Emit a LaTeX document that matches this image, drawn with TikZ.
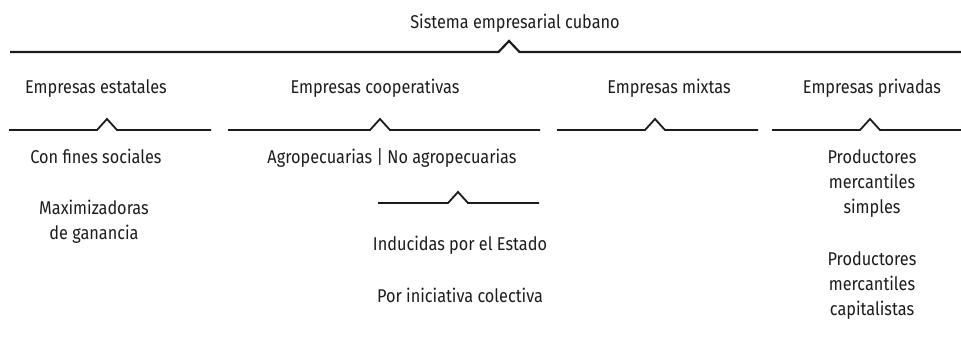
\documentclass[tikz,border=0pt]{standalone}
\usepackage{fontspec}
\setmainfont{Fira Sans}[FakeStretch=0.88]
\begin{document}
\begin{tikzpicture}[x=1pt,y=-1pt,
  lbl/.style={anchor=base,inner sep=0pt,outer sep=0pt,text=ink,font=\fontsize{18.5}{25}\selectfont,align=center},
  bracketline/.style={draw=ink,line width=1.8pt,line join=miter},
  topline/.style={draw=ink,line width=2.2pt,line join=miter}]
\definecolor{ink}{HTML}{1E1B1C}
\useasboundingbox (0,0) rectangle (961,341);
% texts
\node[lbl] (title) at (515,28) {Sistema empresarial cubano};
\node[lbl] (est) at (96,93) {Empresas estatales};
\node[lbl] (coop) at (375,93) {Empresas cooperativas};
\node[lbl] (mix) at (669,93) {Empresas mixtas};
\node[lbl] (priv) at (872,93) {Empresas privadas};
\node[lbl] (fines) at (96,163) {Con fines sociales};
\node[lbl] (maxi) at (94,239) {Maximizadoras\\de ganancia};
\node[lbl] (agro) at (392,163) {Agropecuarias | No agropecuarias};
\node[lbl] (indu) at (460,250) {Inducidas por el Estado};
\node[lbl] (inic) at (460,302) {Por iniciativa colectiva};
\node[lbl] (pms) at (872,213) {Productores\\mercantiles\\simples};
\node[lbl] (pmc) at (872,315) {Productores\\mercantiles\\capitalistas};
% bracket coordinates
\coordinate (t0) at (10,52);   \coordinate (tp) at (509,41);  \coordinate (t1) at (961,52);
\coordinate (a0) at (9,130);   \coordinate (ap) at (107,119); \coordinate (a1) at (211,130);
\coordinate (b0) at (228,130); \coordinate (bp) at (380,119); \coordinate (b1) at (540,130);
\coordinate (c0) at (557,130); \coordinate (cp) at (655,119); \coordinate (c1) at (758,130);
\coordinate (d0) at (772,130); \coordinate (dp) at (870,119); \coordinate (d1) at (961,130);
\coordinate (e0) at (378,203); \coordinate (ep) at (458,192); \coordinate (e1) at (539,203);
\draw[topline] (t0) -- ([xshift=-10.5pt]t0 -| tp) -- (tp) -- ([xshift=10.5pt]t0 -| tp) -- (t1);
\foreach \n in {a,b,c,d,e}{
  \draw[bracketline] (\n0) -- ([xshift=-10pt]\n0 -| \n p) -- (\n p) -- ([xshift=10pt]\n0 -| \n p) -- (\n1);
}
\end{tikzpicture}
\end{document}
